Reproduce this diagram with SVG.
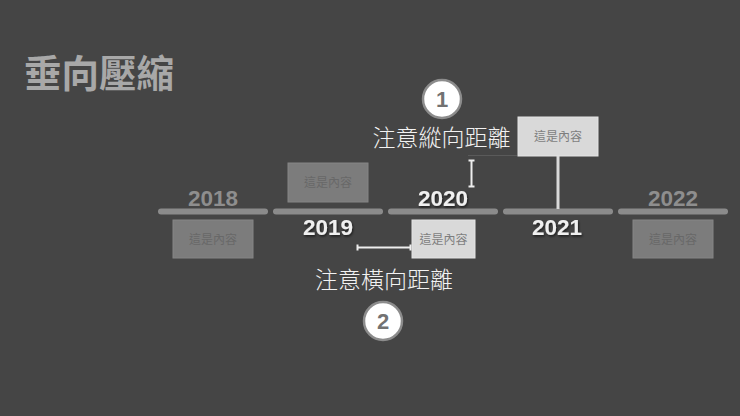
<svg xmlns="http://www.w3.org/2000/svg" width="740" height="416" viewBox="0 0 740 416">
<defs>
<filter id="sh" x="-20%" y="-20%" width="140%" height="160%"><feDropShadow dx="1" dy="1.5" stdDeviation="0.8" flood-color="#000" flood-opacity="0.6"/></filter>
</defs>
<style>
.bg{fill:#454545}
.seg{stroke:#8b8b8b;stroke-width:6;stroke-linecap:round}
.yr{font-family:"Liberation Sans",Arial,sans-serif;font-weight:bold;font-size:22.5px;text-anchor:middle}
.dim{fill:#8e8e8e}
.lit{fill:#f0f0f0}
.gbox{fill:#7c7c7c;stroke:#858585;stroke-width:1}
.lbox{fill:#d9d9d9;stroke:#e4e4e4;stroke-width:1}
.bt{font-family:"Noto Sans CJK TC","Noto Sans CJK SC",sans-serif;font-size:12px;text-anchor:middle}
.gbt{fill:#686868}
.lbt{fill:#7e7e7e}
.note{font-family:"Noto Sans CJK TC","Noto Sans CJK SC",sans-serif;font-size:23px;font-weight:300;fill:#f2f2f2;text-anchor:middle}
.circ{fill:#ffffff;stroke:#8c8c8c;stroke-width:2.5}
.num{font-family:"Liberation Sans",Arial,sans-serif;font-size:22px;font-weight:bold;fill:#727272;text-anchor:middle}
.mk{stroke:#eeeeee;stroke-width:2;fill:none}
</style>
<rect class="bg" x="0" y="0" width="740" height="416"/>
<text x="24" y="86.5" font-family="'Noto Sans CJK TC','Noto Sans CJK SC',sans-serif" font-size="37.5" font-weight="bold" fill="#a8a8a8">垂向壓縮</text>
<g id="timeline">
<line class="seg" x1="161" y1="211.5" x2="265" y2="211.5"/>
<line class="seg" x1="276" y1="211.5" x2="380" y2="211.5"/>
<line class="seg" x1="391" y1="211.5" x2="495" y2="211.5"/>
<line class="seg" x1="506" y1="211.5" x2="610" y2="211.5"/>
<line class="seg" x1="621" y1="211.5" x2="725" y2="211.5"/>
</g>
<g id="y2018"><text class="yr dim" x="213" y="206">2018</text>
<rect class="gbox" x="173" y="220" width="80" height="38"/><text class="bt gbt" x="213" y="243.5">這是內容</text></g>
<g id="y2019"><text class="yr lit" x="328" y="235" filter="url(#sh)">2019</text>
<rect class="gbox" x="288" y="163" width="80" height="39"/><text class="bt gbt" x="328" y="187">這是內容</text></g>
<g id="y2020"><text class="yr lit" x="443" y="206" filter="url(#sh)">2020</text>
<rect class="lbox" x="412" y="220" width="63" height="38"/><text class="bt lbt" x="443.5" y="243.5">這是內容</text></g>
<g id="y2021"><text class="yr lit" x="557" y="235" filter="url(#sh)">2021</text>
<rect class="lbox" x="518" y="117" width="80" height="39"/><text class="bt lbt" x="558" y="141">這是內容</text></g>
<g id="y2022"><text class="yr dim" x="673" y="206">2022</text>
<rect class="gbox" x="633" y="220" width="80" height="38"/><text class="bt gbt" x="673" y="243.5">這是內容</text></g>
<g id="connectors">
<line x1="558" y1="156" x2="558" y2="209" stroke="#d9d9d9" stroke-width="3"/>
<line x1="468" y1="155.5" x2="517" y2="155.5" stroke="#5a5a5a" stroke-width="1"/>
<path class="mk" d="M471.5 160.5V186.5M468.5 160.5H474.5M468.5 186.5H474.5"/>
<path class="mk" d="M357.5 247.5H410.5M357.5 244.5V250.5M410.5 244.5V250.5"/>
</g>
<g id="note1">
<circle class="circ" cx="442" cy="99" r="19"/><text class="num" x="442" y="107">1</text>
<text class="note" x="441.5" y="146">注意縱向距離</text>
</g>
<g id="note2">
<text class="note" x="384" y="288">注意橫向距離</text>
<circle class="circ" cx="383" cy="321" r="19"/><text class="num" x="383" y="329">2</text>
</g>
</svg>
